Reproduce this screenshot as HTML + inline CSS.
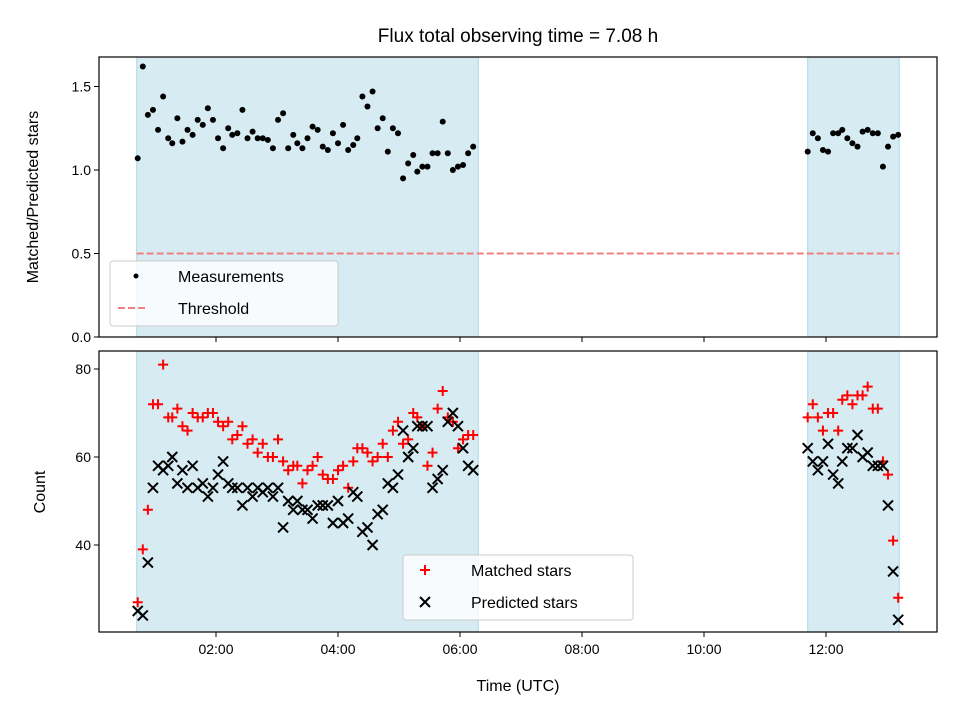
<!DOCTYPE html>
<html><head><meta charset="utf-8"><style>
body{margin:0;background:#fff}
svg{display:block;font-family:"Liberation Sans","DejaVu Sans",sans-serif}
</style></head><body>
<svg id="c" width="960" height="720" viewBox="0 0 960 720">
<text x="518" y="42" text-anchor="middle" font-size="19">Flux total observing time = 7.08 h</text>
<text transform="translate(38,197) rotate(-90)" text-anchor="middle" font-size="16">Matched/Predicted stars</text>
<text transform="translate(45,492) rotate(-90)" text-anchor="middle" font-size="16">Count</text>
<text x="518" y="691" text-anchor="middle" font-size="16">Time (UTC)</text>
<g id="g"></g>
</svg>
<script>
const shadeStart=[42,702];
const shadeEnd=[378,792];
const times1=[43,48,53,58,63,68,73,77,82,87,92,97,102,107,112,117,122,127,132,136,141,146,151,156,161,166,171,176,181,186,191,196,200,205,210,215,220,225,230,235,240,245,250,255,259,264,269,274,279,284,289,294,299,304,309,314,318,323,328,333,338,343,348,353,358,363,368,373];
const times2=[702,707,712,717,722,727,732,736,741,746,751,756,761,766,771,776,781,786,791];
const ratio1=[1.07,1.62,1.33,1.36,1.24,1.44,1.19,1.16,1.31,1.17,1.24,1.21,1.30,1.27,1.37,1.30,1.19,1.13,1.25,1.21,1.22,1.36,1.19,1.23,1.19,1.19,1.18,1.13,1.30,1.34,1.13,1.21,1.16,1.13,1.19,1.26,1.24,1.14,1.12,1.22,1.16,1.27,1.12,1.15,1.19,1.44,1.38,1.47,1.25,1.31,1.11,1.25,1.22,0.95,1.04,1.09,0.99,1.02,1.02,1.10,1.10,1.29,1.10,1.00,1.02,1.03,1.10,1.14];
const ratio2=[1.11,1.22,1.19,1.12,1.11,1.22,1.22,1.24,1.19,1.16,1.14,1.23,1.24,1.22,1.22,1.02,1.14,1.20,1.21];
const pred1=[25,24,36,53,58,57,58,60,54,57,53,58,53,54,51,53,56,59,54,53,53,49,53,51,53,52,53,51,53,44,50,48,50,48,48,46,49,49,49,45,50,45,46,52,51,43,44,40,47,48,54,53,56,66,60,62,67,67,67,53,55,57,68,70,67,62,58,57];
const match1=[27,39,48,72,72,81,69,69,71,67,66,70,69,69,70,70,68,67,68,64,65,67,63,64,61,63,60,60,64,59,57,58,58,54,57,58,60,56,55,55,57,58,53,59,62,62,61,59,60,63,60,66,68,63,64,70,69,67,58,61,71,75,69,68,62,64,65,65];
const pred2=[62,59,57,59,63,56,54,59,62,62,65,60,61,58,58,58,49,34,23];
const match2=[69,72,69,66,70,70,66,73,74,72,74,74,76,71,71,59,56,41,28];
const threshold=0.5;
const xTicks=[120,240,360,480,600,720];
const xTickLabels=["02:00","04:00","06:00","08:00","10:00","12:00"];
const yTopTicks=[0,0.5,1.0,1.5];
const yTopLabels=["0.0","0.5","1.0","1.5"];
const yBotTicks=[40,60,80];
const yBotLabels=["40","60","80"];

const L=99,R=937,T1=57,B1=337,T2=351,B2=632;
const X=m=>216+(m-120)*61/60;
const Y1=v=>337-167*v;
const Y2=v=>369+(80-v)*4.4;
const NS="http://www.w3.org/2000/svg";
const g=document.getElementById('g');
function mk(tag,a,parent){const e=document.createElementNS(NS,tag);for(const k in a)e.setAttribute(k,a[k]);(parent||g).appendChild(e);return e;}

for(let i=0;i<shadeStart.length;i++){
  for(const [t,b] of [[T1,B1],[T2,B2]]){
    const r=mk('rect',{x:X(shadeStart[i]),y:t,width:X(shadeEnd[i])-X(shadeStart[i]),height:b-t,fill:'#add8e6','fill-opacity':0.5,stroke:'#add8e6','stroke-width':1});
    
    
  }
}
const th=mk('line',{x1:X(shadeStart[0]),x2:X(shadeEnd[1]),y1:Y1(threshold),y2:Y1(threshold),stroke:'#f08080','stroke-width':2,'stroke-dasharray':'7,3'});


function dots(ts,vs){for(let i=0;i<ts.length;i++){const c=mk('circle',{cx:X(ts[i]),cy:Y1(vs[i]),r:3,fill:'#000'});

}}
dots(times1,ratio1);dots(times2,ratio2);
const S=5;
function plus(ts,vs){for(let i=0;i<ts.length;i++){const x=X(ts[i]),y=Y2(vs[i]);const p=mk('path',{d:`M${x-S},${y}H${x+S}M${x},${y-S}V${y+S}`,stroke:'#f00','stroke-width':2});

}}
function cross(ts,vs){for(let i=0;i<ts.length;i++){const x=X(ts[i]),y=Y2(vs[i]);const p=mk('path',{d:`M${x-S},${y-S}L${x+S},${y+S}M${x-S},${y+S}L${x+S},${y-S}`,stroke:'#000','stroke-width':2});

}}
plus(times1,match1);plus(times2,match2);
cross(times1,pred1);cross(times2,pred2);
for(const [t,b] of [[T1,B1],[T2,B2]]){
  const f=mk('rect',{x:L,y:t,width:R-L,height:b-t,fill:'none',stroke:'#000','stroke-width':1.2});
  
  
}
for(let i=0;i<xTicks.length;i++){
  const x=X(xTicks[i]);
  mk('line',{x1:x,x2:x,y1:B1,y2:B1+5,stroke:'#000'});
  mk('line',{x1:x,x2:x,y1:B2,y2:B2+5,stroke:'#000'});
  const t=mk('text',{x:x,y:B2+22,'text-anchor':'middle','font-size':14});
  t.textContent=xTickLabels[i];
  
  
}
for(let i=0;i<yTopTicks.length;i++){
  const y=Y1(yTopTicks[i]);
  mk('line',{x1:L-5,x2:L,y1:y,y2:y,stroke:'#000'});
  const t=mk('text',{x:L-8,y:y+5,'text-anchor':'end','font-size':14});
  t.textContent=yTopLabels[i];
  
  
}
for(let i=0;i<yBotTicks.length;i++){
  const y=Y2(yBotTicks[i]);
  mk('line',{x1:L-5,x2:L,y1:y,y2:y,stroke:'#000'});
  const t=mk('text',{x:L-8,y:y+5,'text-anchor':'end','font-size':14});
  t.textContent=yBotLabels[i];
  
  
}
function legend(x,y,w,h,name,items){
  const lg=mk('g',{});
  
  
  mk('rect',{x:x,y:y,width:w,height:h,rx:3,fill:'#fff','fill-opacity':0.8,stroke:'#ccc'},lg);
  items.forEach((it,i)=>{
    const cy=y+15+i*32;
    const cx=x+22;
    if(it.k==='dot')mk('circle',{cx:cx+4,cy:cy,r:2.5,fill:'#000'},lg);
    if(it.k==='dash')mk('line',{x1:cx-14,x2:cx+14,y1:cy,y2:cy,stroke:'#f08080','stroke-width':2,'stroke-dasharray':'7,3'},lg);
    if(it.k==='plus')mk('path',{d:`M${cx-S},${cy}H${cx+S}M${cx},${cy-S}V${cy+S}`,stroke:'#f00','stroke-width':2},lg);
    if(it.k==='x')mk('path',{d:`M${cx-S},${cy-S}L${cx+S},${cy+S}M${cx-S},${cy+S}L${cx+S},${cy-S}`,stroke:'#000','stroke-width':2},lg);
    const t=mk('text',{x:x+68,y:cy+6,'font-size':16},lg);
    t.textContent=it.t;
    
    
  });
}
legend(110,261,228,65,'top-legend',[{k:'dot',t:'Measurements'},{k:'dash',t:'Threshold'}]);
legend(403,555,230,65,'bottom-legend',[{k:'plus',t:'Matched stars'},{k:'x',t:'Predicted stars'}]);
</script>
</body></html>
